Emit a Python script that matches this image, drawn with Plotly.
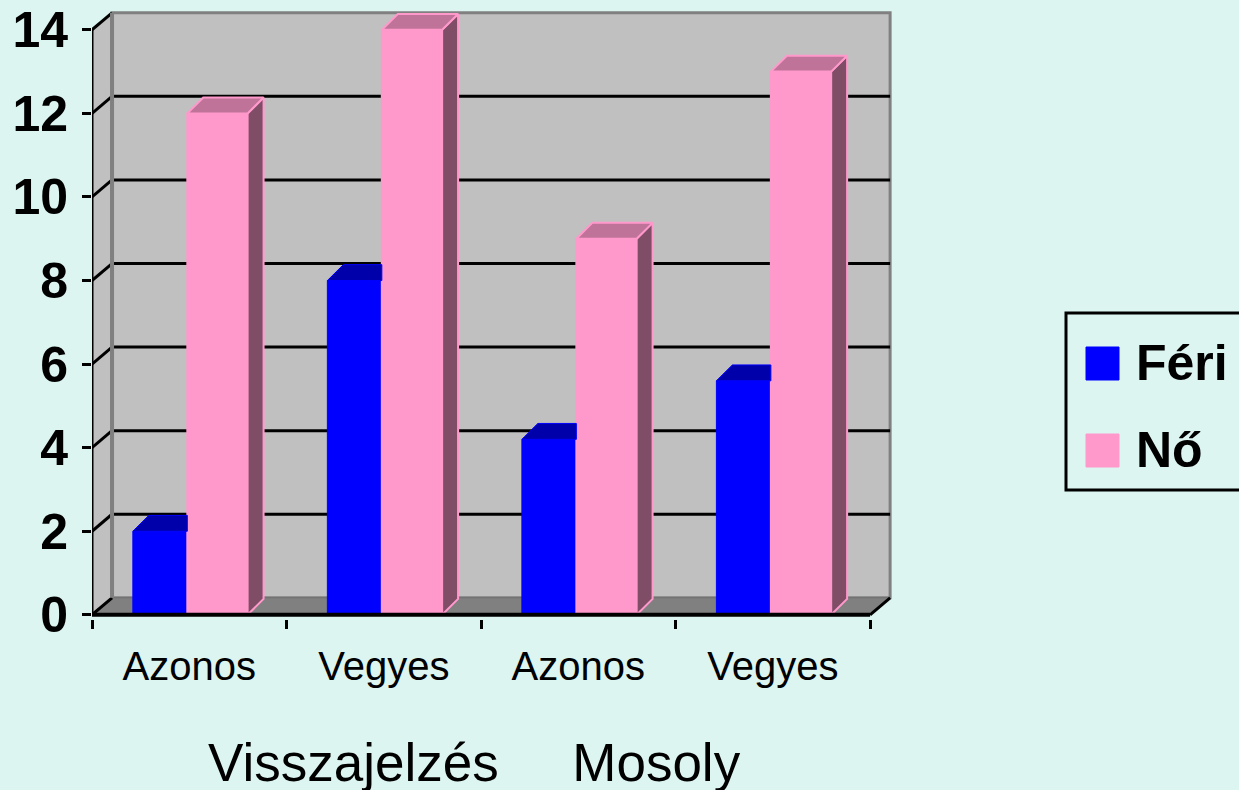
import plotly.graph_objects as go

# chart values
categories = ['Azonos', 'Vegyes', 'Azonos', 'Vegyes']
series_names = ['Féri', 'Nő']
feri = [2, 8, 4.2, 5.6]
no = [12, 14, 9, 13]
y_ticks = [0, 2, 4, 6, 8, 10, 12, 14]
x_title = 'Visszajelzés\u00a0\u00a0\u00a0\u00a0 Mosoly'

# colours
BG = '#DCF5F1'
WALL = '#C0C0C0'
WALL_EDGE = '#808080'
BLUE, BLUE_TOP = '#0000FF', '#0000AA'
PINK, PINK_TOP, PINK_SIDE = '#FF99CC', '#C07399', '#804D66'
FONT = 'Liberation Sans, Arial, sans-serif'

W, H = 1239, 790
ML, MR, MT, MB = 92, 345, 11, 171
X_RANGE = [-0.5, 3.623]
Y_RANGE = [-0.1, 14.45]
YMAX = max(y_ticks)

# pseudo 3d depth (data units)
DX, DY = 0.103, 0.407      # walls
BDX, BDY = 0.082, 0.38     # bars

# bar placement inside each category
B_OFF, B_W = -0.29, 0.28
P_OFF, P_W = -0.01, 0.31

x_pos = list(range(len(categories)))


def px2paper(px, py):
    pw = W - ML - MR
    ph = H - MT - MB
    return (px - ML) / pw, (H - MB - py) / ph


x0w, x1w = X_RANGE[0], len(categories) - 0.5

shapes = [
    # left wall
    dict(type='path', layer='below', line_width=0, fillcolor=WALL,
         path=f'M{x0w},0 L{x0w+DX},{DY} L{x0w+DX},{YMAX+DY} L{x0w},{YMAX} Z'),
    # back wall
    dict(type='rect', layer='below', x0=x0w + DX, x1=x1w + DX, y0=DY, y1=YMAX + DY,
         fillcolor=WALL, line=dict(color=WALL_EDGE, width=3)),
    # floor
    dict(type='path', layer='below', fillcolor=WALL_EDGE,
         line=dict(color='#6E6E6E', width=1),
         path=f'M{x0w},0 L{x1w},0 L{x1w+DX},{DY} L{x0w+DX},{DY} Z'),
]
for k in y_ticks:
    if 0 < k < YMAX:
        shapes.append(dict(type='line', layer='below', x0=x0w + DX, x1=x1w + DX,
                           y0=k + DY, y1=k + DY, line=dict(color='black', width=3)))
    shapes.append(dict(type='line', layer='below', x0=x0w, x1=x0w + DX,
                       y0=k, y1=k + DY, line=dict(color='black', width=3)))
shapes.append(dict(type='line', layer='below', x0=x0w + DX, x1=x0w + DX,
                   y0=DY, y1=YMAX + DY, line=dict(color=WALL_EDGE, width=4)))
# front axis lines
shapes += [
    dict(type='line', layer='above', x0=x0w, x1=x1w, y0=0, y1=0,
         line=dict(color='black', width=4)),
    dict(type='line', layer='above', x0=x1w, x1=x1w + DX, y0=0, y1=DY,
         line=dict(color='black', width=3)),
    dict(type='line', layer='above', x0=x0w, x1=x0w, y0=0, y1=YMAX,
         line=dict(color='black', width=3)),
]

# custom legend
lx0, ly0 = px2paper(1066, 490)
lx1, ly1 = px2paper(1270, 313)
shapes.append(dict(type='rect', xref='paper', yref='paper', x0=lx0, x1=lx1,
                   y0=ly0, y1=ly1, line=dict(color='black', width=3),
                   fillcolor='rgba(0,0,0,0)'))
annotations = []
for name, col, cy in [(series_names[0], BLUE, 363), (series_names[1], PINK, 450)]:
    sx0, sy0 = px2paper(1086, cy + 17)
    sx1, sy1 = px2paper(1119, cy - 16)
    shapes.append(dict(type='rect', xref='paper', yref='paper', x0=sx0, x1=sx1,
                       y0=sy0, y1=sy1, fillcolor=col, line=dict(color=col, width=1)))
    tx, ty = px2paper(1134, cy)
    annotations.append(dict(xref='paper', yref='paper', x=tx, y=ty, text=name,
                            showarrow=False, xanchor='left', yanchor='middle',
                            font=dict(family=FONT, size=50, color='black',
                                      weight='bold')))

ax, ay = px2paper(474, 762)
annotations.append(dict(xref='paper', yref='paper', x=ax, y=ay, text=x_title,
                        showarrow=False, xanchor='center', yanchor='middle',
                        font=dict(family=FONT, size=53, color='black')))


def top_faces(vals, off, w, clip):
    xs, ys = [], []
    for x, v in zip(x_pos, vals):
        a, b = x + off, x + off + w
        if clip:
            xs += [a, b, b, a + BDX, a, None]
        else:
            xs += [a, b, b + BDX, a + BDX, a, None]
        ys += [v, v, v + BDY, v + BDY, v, None]
    return xs, ys


def side_faces(vals, off, w):
    xs, ys = [], []
    for x, v in zip(x_pos, vals):
        b = x + off + w
        xs += [b, b, b + BDX, b + BDX, b, None]
        ys += [0, v, v + BDY, BDY, 0, None]
    return xs, ys


bx, by = top_faces(feri, B_OFF, B_W, True)
ptx, pty = top_faces(no, P_OFF, P_W, False)
psx, psy = side_faces(no, P_OFF, P_W)

fig = go.Figure(
    data=[
        go.Bar(name=series_names[0], x=x_pos, y=feri, width=B_W, offset=B_OFF,
               marker=dict(color=BLUE, line=dict(color=BLUE, width=1))),
        go.Bar(name=series_names[1], x=x_pos, y=no, width=P_W, offset=P_OFF,
               marker=dict(color=PINK, line=dict(color=PINK, width=2))),
        go.Scatter(x=bx, y=by, fill='toself', fillcolor=BLUE_TOP, mode='lines',
                   line=dict(color=BLUE, width=1), hoverinfo='skip'),
        go.Scatter(x=psx, y=psy, fill='toself', fillcolor=PINK_SIDE, mode='lines',
                   line=dict(color=PINK, width=2), hoverinfo='skip'),
        go.Scatter(x=ptx, y=pty, fill='toself', fillcolor=PINK_TOP, mode='lines',
                   line=dict(color=PINK, width=2), hoverinfo='skip'),
    ]
)

fig.update_xaxes(
    range=X_RANGE, tickmode='array', tickvals=x_pos, ticktext=categories,
    ticks='', showgrid=False, zeroline=False, showline=False,
    tickfont=dict(family=FONT, size=40, color='black'),
    ticklabelstandoff=20,
    minor=dict(ticks='outside', ticklen=9, tickwidth=3, tickcolor='black',
               tickmode='array',
               tickvals=[x - 0.5 for x in x_pos] + [x_pos[-1] + 0.5],
               showgrid=False))
fig.update_yaxes(
    range=Y_RANGE, tickmode='array', tickvals=y_ticks, ticks='outside',
    ticklen=9, tickwidth=3, tickcolor='black', showgrid=False,
    zeroline=False, showline=False, ticklabelstandoff=4,
    tickfont=dict(family=FONT, size=50, color='black', weight='bold'))
fig.update_layout(
    width=W, height=H, showlegend=False, barmode='overlay',
    paper_bgcolor=BG, plot_bgcolor=BG,
    margin=dict(l=ML, r=MR, t=MT, b=MB, autoexpand=False),
    shapes=shapes, annotations=annotations)

fig.write_html('out.html', config={'displayModeBar': False},
               post_script="document.body.style.margin='0';"
                           "document.body.style.overflow='hidden';")
